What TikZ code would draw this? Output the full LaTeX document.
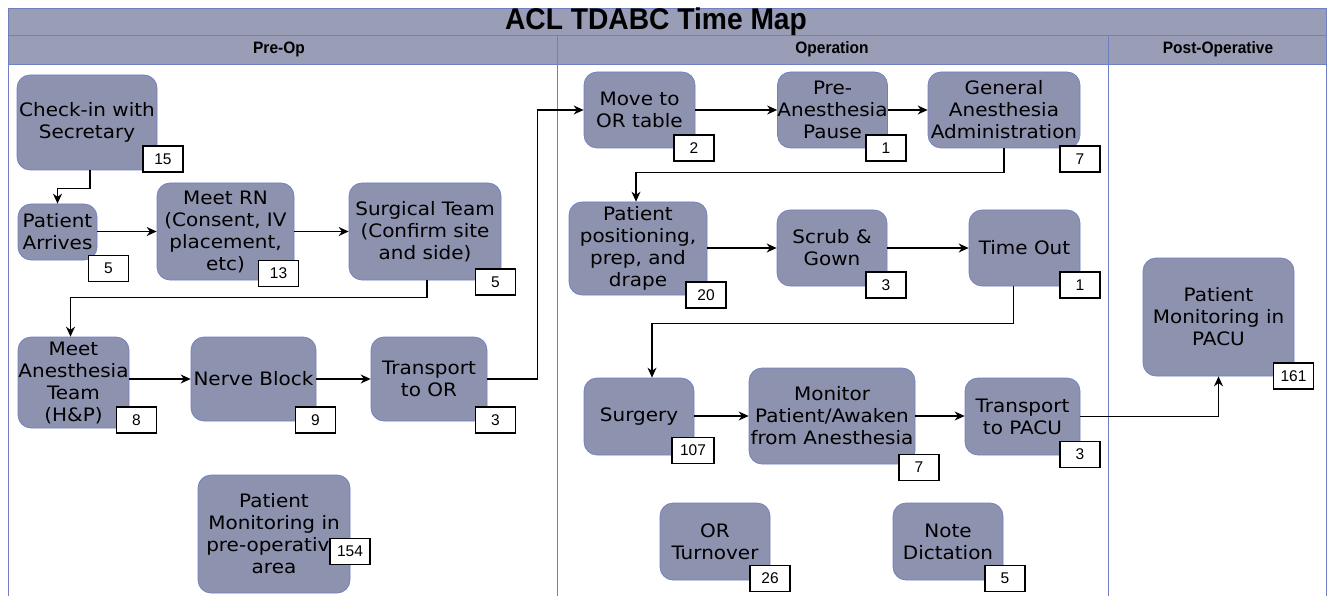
\documentclass[tikz,border=0pt]{standalone}
\usepackage{fontspec}
\setmainfont{DejaVu Sans}[FakeStretch=1.08]
\newfontfamily\headfont{Liberation Sans}[FakeStretch=0.94]
\newfontfamily\badgefont{Liberation Sans}
\usepackage{xcolor}
\usetikzlibrary{positioning}
\usetikzlibrary{arrows.meta}
\definecolor{laneblue}{RGB}{112,126,196}
\definecolor{headgray}{RGB}{153,158,182}
\definecolor{taskgray}{RGB}{141,146,174}

\begin{document}
\begin{tikzpicture}[x=1pt,y=-1pt,>={Stealth[length=10pt,width=9pt]},
  task/.style 2 args={draw=laneblue,line width=0.7pt,fill=taskgray,rounded corners=13pt,
    align=center,inner sep=0pt,minimum width=#1,minimum height=#2,
    font=\fontsize{18.5}{22}\selectfont},
  badge/.style={draw=black,line width=1.1pt,fill=white,minimum width=40,minimum height=26,
    inner sep=0pt,font=\badgefont\fontsize{15.5}{17}\selectfont},
  lanehead/.style={font=\headfont\fontsize{16.5}{18}\bfseries},
  flow/.style={->,line width=1.2pt}]
\useasboundingbox (0,0) rectangle (1330,596);
% frame and lanes
\fill[headgray] (8,8) rectangle (1326,64);
\draw[laneblue,line width=0.9pt] (8,600) -- (8,8) -- (1326,8) -- (1326,600);
\draw[laneblue,line width=0.9pt] (8,35) -- (1326,35);
\draw[laneblue,line width=0.9pt] (8,64) -- (1326,64);
\draw[laneblue,line width=0.9pt] (557,35) -- (557,600);
\draw[laneblue,line width=0.9pt] (1108,35) -- (1108,600);
\node[font=\headfont\fontsize{30}{32}\bfseries] (title) at (656,21.5) {ACL TDABC Time Map};
\node[lanehead] (preop) at (279,49.5) {Pre-Op};
\node[lanehead] (oper) at (832,49.5) {Operation};
\node[lanehead] (postop) at (1218,49.5) {Post-Operative};

% Pre-Op
\node[task={140}{95}] (checkin) at (87,122.5) {Check-in with\\Secretary};
\node[task={79}{56}] (arrive) at (57.5,232) {Patient\\Arrives};
\node[task={137}{97}] (rn) at (225.5,231.5) {Meet RN\\(Consent, IV\\placement,\\etc)};
\node[task={152}{97}] (surgteam) at (425,231.5) {Surgical Team\\(Confirm site\\and side)};
\node[task={111}{91}] (anesteam) at (73.5,382.5) {Meet\\Anesthesia\\Team\\(H\&P)};
\node[task={125}{84}] (nerve) at (253.5,379) {Nerve Block};
\node[task={116}{84}] (toor) at (429,379) {Transport\\to OR};
\node[task={152}{118}] (premon) at (274,534) {Patient\\Monitoring in\\pre-operativ\phantom{e}\\area};
\node[badge] (b-checkin) at (163,159) {15};
\node[badge] (b-arrive) at (108.5,268.5) {5};
\node[badge] (b-rn) at (278.5,273.5) {13};
\node[badge] (b-surgteam) at (495.5,282) {5};
\node[badge] (b-anesteam) at (136.5,420) {8};
\node[badge] (b-nerve) at (315.5,420) {9};
\node[badge] (b-toor) at (495.5,420) {3};
\node[badge] (b-premon) at (350,551.5) {154};

% Operation
\node[task={111}{76}] (moveor) at (639.5,110) {Move to\\OR table};
\node[task={109}{76}] (pause) at (832.5,110) {Pre-\\Anesthesia\\Pause};
\node[task={152}{76}] (genanes) at (1004,110) {General\\Anesthesia\\Administration};
\node[task={138}{93}] (position) at (638,248.5) {Patient\\positioning,\\prep, and\\drape};
\node[task={110}{76}] (scrub) at (832,248) {Scrub \&\\Gown};
\node[task={111}{76}] (timeout) at (1024.5,248) {Time Out};
\node[task={110}{77}] (surgery) at (639,416.5) {Surgery};
\node[task={166}{96}] (monitor) at (832,416) {Monitor\\Patient/Awaken\\from Anesthesia};
\node[task={115}{77}] (topacu) at (1022.5,416.5) {Transport\\to PACU};
\node[task={110}{77}] (turnover) at (715,541.5) {OR\\Turnover};
\node[task={110}{77}] (dictation) at (948,541.5) {Note\\Dictation};
\node[badge] (b-moveor) at (694,148) {2};
\node[badge] (b-pause) at (886,148) {1};
\node[badge] (b-genanes) at (1080,159) {7};
\node[badge] (b-position) at (706,295) {20};
\node[badge] (b-scrub) at (886,285) {3};
\node[badge] (b-timeout) at (1080,285) {1};
\node[badge,minimum width=42] (b-surgery) at (693,450.5) {107};
\node[badge] (b-monitor) at (919,467.5) {7};
\node[badge] (b-topacu) at (1080,454.5) {3};
\node[badge] (b-turnover) at (770,578.5) {26};
\node[badge] (b-dictation) at (1005,578.5) {5};

% Post-Operative
\node[task={151}{118}] (pacu) at (1218.5,317) {Patient\\Monitoring in\\PACU};
\node[badge] (b-pacu) at (1293.5,376) {161};

% flow
\draw[flow] ([xshift=3]checkin.south) -- ++(0,18) -| (arrive.north);
\draw[flow] (rn.west -| arrive.east) -- (rn.west);
\draw[flow] (rn.east) -- (surgteam.west);
\draw[flow] ([xshift=2]surgteam.south) -- ++(0,17) -| ([xshift=-3]anesteam.north);
\draw[flow] (nerve.west -| anesteam.east) -- (nerve.west);
\draw[flow] (nerve.east) -- (toor.west);
\draw[flow] (toor.east) -- ++(50,0) |- (moveor.west);
\draw[flow] (moveor.east) -- (pause.west);
\draw[flow] (pause.east) -- (genanes.west);
\draw[flow] (genanes.south) -- ++(0,24) -| ([xshift=-2]position.north);
\draw[flow] (scrub.west -| position.east) -- (scrub.west);
\draw[flow] (scrub.east) -- (timeout.west);
\draw[flow] ([xshift=-11]timeout.south) -- ++(0,37) -| ([xshift=13]surgery.north);
\draw[flow] (monitor.west -| surgery.east) -- (monitor.west);
\draw[flow] (monitor.east) -- (monitor.east -| topacu.west);
\draw[flow] (topacu.east) -| (pacu.south);
\end{tikzpicture}
\end{document}
